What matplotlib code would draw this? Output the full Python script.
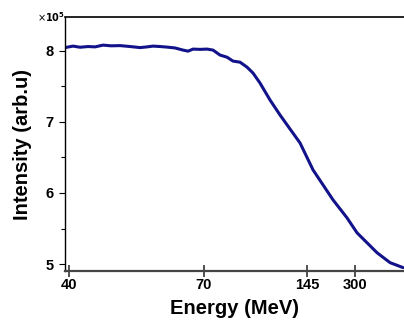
import matplotlib
matplotlib.use('Agg')
import matplotlib.pyplot as plt
import numpy as np

plt.rcParams['font.family'] = ['Liberation Sans', 'DejaVu Sans']

# position along the (non-uniform) energy axis, arbitrary units
pos = [0, 8, 15, 23, 30, 38, 46, 55, 65, 75, 82, 88, 95, 102, 110, 118,
       123, 128, 135, 142, 148, 155, 162, 168, 175, 182, 188, 195, 205,
       215, 225, 235, 248, 258, 268, 282, 292, 302, 312, 325, 338]
# intensity in units of 1e5
intensity = [8.045, 8.066, 8.05, 8.06, 8.055, 8.08, 8.07, 8.073, 8.06,
             8.045, 8.055, 8.066, 8.06, 8.052, 8.04, 8.01, 7.995, 8.024,
             8.02, 8.024, 8.01, 7.94, 7.91, 7.855, 7.84, 7.77, 7.687,
             7.546, 7.308, 7.097, 6.90, 6.704, 6.325, 6.114, 5.903, 5.65,
             5.44, 5.30, 5.16, 5.02, 4.95]

tick_pos = [4.3, 139, 242.3, 290]
tick_lab = ['40', '70', '145', '300']

fig = plt.figure(figsize=(4.04, 3.22), dpi=100)
ax = fig.add_axes([0.161, 0.159, 0.839, 0.787])

ax.plot(pos, intensity, color='#12128a', lw=2.2, solid_capstyle='round')

ax.set_xlim(0, 339)
ax.set_ylim(4.905, 8.47)
ax.set_xticks(tick_pos)
ax.set_xticklabels(tick_lab)
ax.set_yticks([5, 6, 7, 8])
ax.set_yticks([5.5, 6.5, 7.5], minor=True)

ax.spines['right'].set_visible(False)
ax.spines['bottom'].set_linewidth(1.6)
ax.spines['bottom'].set_color('#444444')
ax.spines['top'].set_linewidth(1.2)
ax.spines['left'].set_linewidth(1.0)

ax.tick_params(axis='x', direction='inout', length=8, width=1.2,
               color='#333333', pad=1)
ax.tick_params(axis='y', which='major', direction='out', length=4, width=0.8,
               pad=4)
ax.tick_params(axis='y', which='minor', direction='out', length=3, width=0.8)
for lab in ax.get_xticklabels() + ax.get_yticklabels():
    lab.set_fontsize(10.5)
    lab.set_fontweight('bold')

ax.set_xlabel('Energy (MeV)', fontsize=14.5, fontweight='bold', labelpad=5)
ax.set_ylabel('Intensity (arb.u)', fontsize=14.5, fontweight='bold',
              labelpad=10)

fig.text(0.092, 0.948, r'$\times\mathbf{10}^{\mathbf{5}}$', fontsize=7,
         ha='left', va='center')

fig.savefig('out.png', dpi=100)
